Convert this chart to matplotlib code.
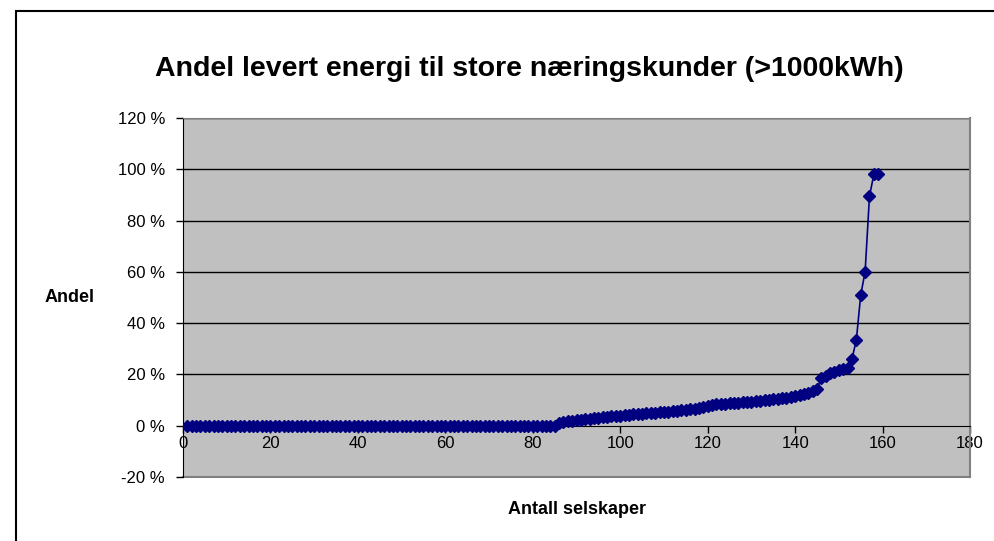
import matplotlib.pyplot as plt
from matplotlib.patches import Rectangle
from matplotlib.ticker import FuncFormatter

plt.rcParams['font.family'] = ['Liberation Sans', 'DejaVu Sans']

# Andel (%) per selskap, sortert stigende
zero_count = 85
rising = [1.2, 1.5, 1.8, 2.0, 2.2, 2.4, 2.6, 2.8, 3.0, 3.1,
          3.3, 3.4, 3.6, 3.8, 3.9, 4.1, 4.3, 4.4, 4.5, 4.7,
          4.8, 5.0, 5.1, 5.3, 5.4, 5.5, 5.6, 5.8, 6.0, 6.2,
          6.4, 6.7, 7.0, 7.4, 7.8, 8.1, 8.3, 8.5, 8.6, 8.7,
          8.8, 9.0, 9.1, 9.2, 9.4, 9.6, 9.8, 10.0, 10.2, 10.4,
          10.6, 10.8, 11.0, 11.2, 11.5, 11.8, 12.3, 12.9, 13.5, 14.3,
          18.5, 19.5, 20.5, 21.0, 21.6, 22.0, 22.5, 26.0, 33.5, 51.0,
          60.0, 89.5, 98.0, 98.2]
andel = [0.0] * zero_count + rising
selskap = list(range(1, len(andel) + 1))

x_ticks = [0, 20, 40, 60, 80, 100, 120, 140, 160, 180]
y_ticks = [-20, 0, 20, 40, 60, 80, 100, 120]

fig = plt.figure(figsize=(9.94, 5.41), dpi=100)
ax = fig.add_axes([0.1841, 0.1183, 0.7918, 0.6636])
ax.set_facecolor('#C0C0C0')

# ytre ramme
fig.patches.append(Rectangle((16 / 994, -0.2), 1.2, 1.2 - 11 / 541,
                             transform=fig.transFigure, fill=False,
                             edgecolor='black', linewidth=1.5))

for yv in y_ticks[2:]:
    ax.axhline(yv, color='black', linewidth=1, zorder=1)
ax.axhline(-20, color='#808080', linewidth=1.5, zorder=1, clip_on=False)

ax.plot(selskap, andel, color='#000080', linewidth=1.2, marker='D',
        markersize=6.5, zorder=3)

ax.set_xlim(0, 180)
ax.set_ylim(-20, 120)
ax.set_xticks(x_ticks)
ax.set_yticks(y_ticks)
ax.yaxis.set_major_formatter(FuncFormatter(lambda v, p: '%d %%' % v))

ax.spines['bottom'].set_position(('data', 0))
ax.spines['bottom'].set_color('black')
ax.spines['left'].set_color('black')
ax.spines['top'].set_color('#808080')
ax.spines['right'].set_color('#808080')
ax.spines['right'].set_linewidth(1.5)
ax.tick_params(axis='both', direction='out', length=5, labelsize=12, width=1)
ax.tick_params(axis='x', pad=2.5)
ax.tick_params(axis='y', pad=8)

ax.set_title('Andel levert energi til store næringskunder (>1000kWh)',
             fontsize=20.5, fontweight='bold', x=0.44, pad=30)
fig.text(70 / 994, 1 - 298 / 541, 'Andel', fontsize=13, fontweight='bold',
         ha='center', va='center')
fig.text(577 / 994, 1 - 510 / 541, 'Antall selskaper', fontsize=13,
         fontweight='bold', ha='center', va='center')

fig.savefig('out.png', dpi=100)
